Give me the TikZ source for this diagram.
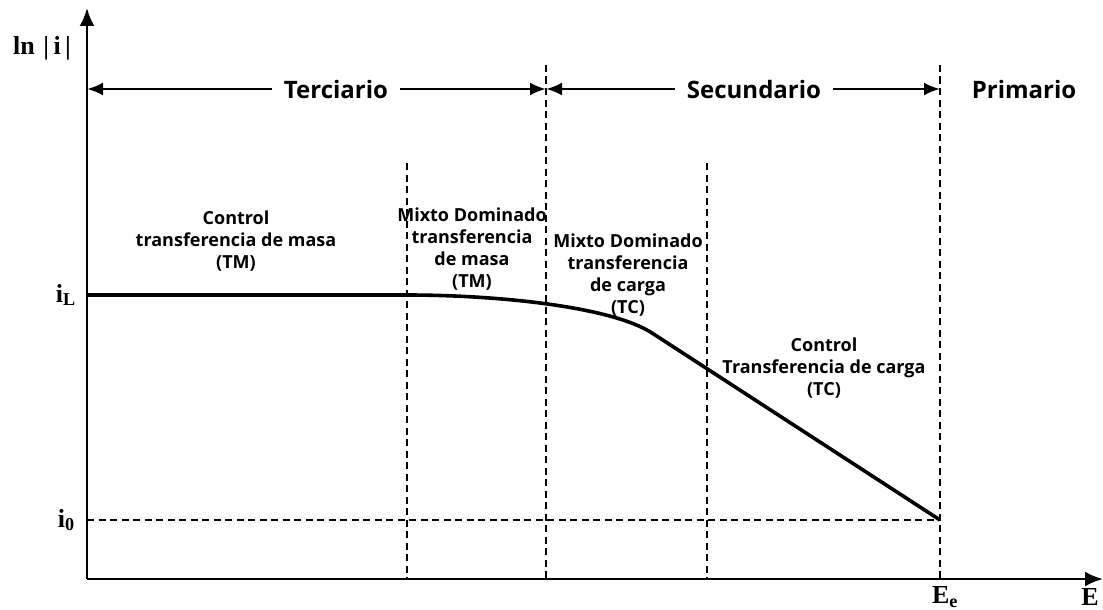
\documentclass[tikz,border=0pt]{standalone}
\usepackage{fontspec}
\setmainfont{Liberation Serif}
\newfontfamily\zonefont{Open Sans}
\usetikzlibrary{arrows.meta,positioning}
\tikzset{axis/.style={line width=2.6pt,-{Latex[length=18pt,width=15pt]}}}
\tikzset{span/.style={line width=2.6pt,-{Latex[length=16pt,width=13pt]}}}
\tikzset{guide/.style={line width=2.2pt,dash pattern=on 7pt off 4.5pt}}
\tikzset{region/.style={inner sep=12pt,font=\zonefont\bfseries\fontsize{24}{28}\selectfont}}
\tikzset{zone/.style={align=center,inner sep=0pt,font=\zonefont\bfseries\fontsize{18}{22}\selectfont}}
\tikzset{val/.style={inner sep=0pt,font=\bfseries\fontsize{26}{28}\selectfont}}

\begin{document}
\begin{tikzpicture}[x=1pt,y=-1pt]
  \useasboundingbox (0,0) rectangle (1103,610);
  % axes
  \coordinate (O) at (87,579);
  \coordinate (ytop) at (87,8);
  \coordinate (xend) at (1103,579);
  \draw[axis] (O) -- (ytop);
  \draw[axis] (O) -- (xend);
  \node[val] (lni) at (42,48) {ln\,\,|\,i\,|};
  \node[val] (E) at (1090,597) {E};
  % boundaries
  \coordinate (b1top) at (407,163);
  \coordinate (b2top) at (546,65);
  \coordinate (b3top) at (707,163);
  \coordinate (b4top) at (940,65);
  \foreach \b in {b1,b2,b3,b4}
    \draw[guide] (\b top) -- (\b top |- O);
  \node[val] (Ee) at (945,597) {E\textsubscript{e}};
  % regions
  \coordinate (ter) at (87,89);
  \node[region] (terc) at (336,89) {Terciario};
  \node[region] (sec) at (754,89) {Secundario};
  \node[region] (prim) at (1024,89) {Primario};
  \draw[span] (terc.west) -- (ter);
  \draw[span] (terc.east) -- (terc.east -| b2top);
  \draw[span] (sec.west) -- (sec.west -| b2top);
  \draw[span] (sec.east) -- (sec.east -| b4top);
  % zones
  \node[zone] (ctm) at (236,241) {Control\\transferencia de masa\\(TM)};
  \node[zone] (mtm) at (472,249) {Mixto Dominado\\transferencia\\de masa\\(TM)};
  \node[zone] (mtc) at (628,275) {Mixto Dominado\\transferencia\\de carga\\(TC)};
  \node[zone] (ctc) at (824,368) {Control\\Transferencia de carga\\(TC)};
  % current
  \coordinate (iL) at (87,295);
  \coordinate (flat) at (407,295);
  \coordinate (knee) at (652,333);
  \coordinate (i0end) at (940,520);
  \coordinate (i0) at (87,520);
  \node[val,left=11pt of iL] (iLlab) {i\textsubscript{L}};
  \node[val,left=12pt of i0] (i0lab) {i\textsubscript{0}};
  \draw[guide] (i0) -- (i0end);
  \draw[line width=3.6pt] (iL) -- (flat) .. controls (500,295) and (612,307) .. (knee) -- (i0end);
\end{tikzpicture}
\end{document}
